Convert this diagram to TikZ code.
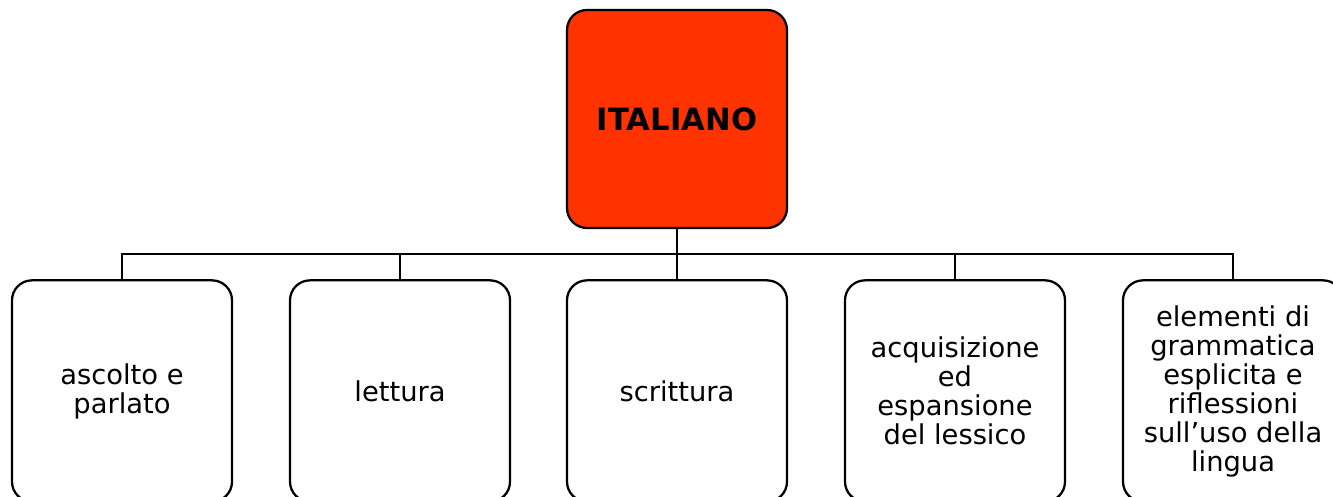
\documentclass[tikz,border=0pt]{standalone}
\usepackage{fontspec}
\setmainfont{DejaVu Sans}
\usepackage{tikz}
\usepackage{xcolor}

\definecolor{titlered}{RGB}{255,51,0}

\tikzset{
  topicbox/.style={draw, line width=1.7pt, rounded corners=15pt, minimum width=165pt,
    minimum height=166pt, align=center, inner sep=0pt, font=\fontsize{20.5}{21.75}\selectfont},
  rootbox/.style={topicbox, minimum height=163.5pt, fill=titlered, font=\fontsize{23}{26}\selectfont\bfseries},
  link/.style={line width=1.5pt}
}

\begin{document}
\begin{tikzpicture}[x=0.75pt,y=0.75pt,yscale=-1,xscale=1]
\clip (0,0) rectangle (1333,496);
\useasboundingbox (0,0) rectangle (1333,496);

%Root box
\node [rootbox] (ita) at (677,119) {ITALIANO};

%Branch boxes
\node [topicbox] (ascolto) at (122,391) {ascolto e\\parlato};
\node [topicbox] (lettura) at (400,391) {lettura};
\node [topicbox] (scrittura) at (677,391) {scrittura};
\node [topicbox] (lessico) at (955,391) {acquisizione\\ed\\espansione\\del lessico};
\node [topicbox] (grammatica) at (1233,391) {elementi di\\grammatica\\esplicita e\\riflessioni\\sull’uso della\\lingua};

%Connectors
\coordinate (bus) at (677,254);
\draw [link] (ita.south) -- (bus);
\foreach \b in {ascolto,lettura,scrittura,lessico,grammatica}
  \draw [link] (bus) -| (\b.north);

\end{tikzpicture}
\end{document}
